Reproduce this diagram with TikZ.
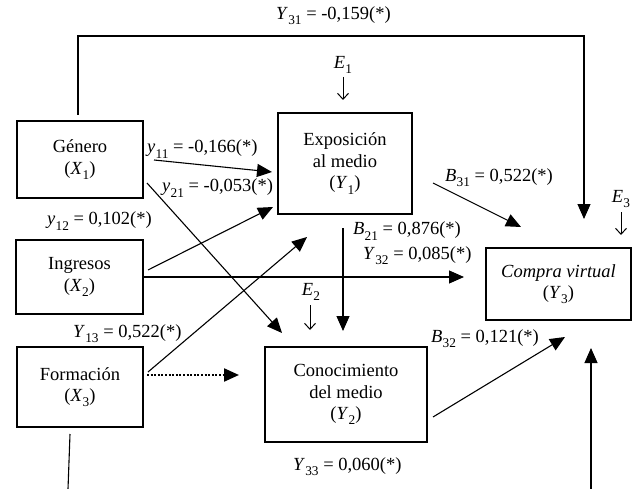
\documentclass[tikz,border=0pt]{standalone}
\usepackage{fontspec}
\usepackage{graphicx}
\setmainfont{Liberation Serif}
\usetikzlibrary{arrows.meta}
\newcommand{\sv}[2]{\textit{#1}\kern0.2pt\raisebox{-0.28em}{\scalebox{0.72}{#2}}}
\begin{document}
\begin{tikzpicture}[x=1pt,y=-1pt,
  box/.style={draw, line width=1.6pt, align=center, inner sep=0pt, font=\fontsize{18.5}{21.5}\selectfont},
  lab/.style={inner sep=0pt, anchor=west, font=\fontsize{18.5}{21}\selectfont},
  elab/.style={inner sep=0pt, font=\fontsize{18.5}{21}\selectfont},
  arr/.style={line width=1.1pt, -{Triangle[length=15pt,width=13pt]}},
  plain/.style={line width=1.1pt},
  earr/.style={line width=1pt, -{Straight Barb[length=6pt,width=11pt,line width=1pt]}},
  dotarr/.style={line width=2.2pt, dash pattern=on 2pt off 1.6pt, -{Triangle[length=15pt,width=13pt]}}]
\useasboundingbox (0,0) rectangle (634,489);

% boxes
\node[box, minimum width=126pt, minimum height=77pt] (gen) at (80,159.5) {Género\\(\sv{X}{1})};
\node[box, minimum width=134pt, minimum height=101pt] (exp) at (345,163.5) {Exposición\\al medio\\(\sv{Y}{1})};
\node[box, minimum width=127pt, minimum height=74pt] (ing) at (79.5,277) {Ingresos\\(\sv{X}{2})};
\node[box, minimum width=145pt, minimum height=72pt] (com) at (558.5,284) {\textit{Compra virtual}\\(\sv{Y}{3})};
\node[box, minimum width=126pt, minimum height=80pt] (for) at (80,387) {Formación\\(\sv{X}{3})};
\node[box, minimum width=162pt, minimum height=95pt] (con) at (346,394.5) {Conocimiento\\del medio\\(\sv{Y}{2})};

% error terms
\node[elab] (e1) at (343,65) {\sv{E}{1}};
\node[elab] (e2) at (311,292) {\sv{E}{2}};
\node[elab] (e3) at (621,199) {\sv{E}{3}};
\coordinate (e1t) at (343,100);
\coordinate (e2t) at (310,330);
\coordinate (e3t) at (621,235);
\draw[earr] (343,77) -- (e1t);
\draw[earr] (310,305) -- (e2t);
\draw[earr] (621,212) -- (e3t);

% labels
\node[lab] (l31) at (276,16) {\sv{Y}{31} = -0,159(*)};
\node[lab] (l11) at (147,149) {\sv{y}{11} = -0,166(*)};
\node[lab] (l21) at (162,188) {\sv{y}{21} = -0,053(*)};
\node[lab] (l12) at (47,221) {\sv{y}{12} = 0,102(*)};
\node[lab] (lb31) at (445,178) {\sv{B}{31} = 0,522(*)};
\node[lab] (lb21) at (353,231) {\sv{B}{21} = 0,876(*)};
\node[lab] (l32) at (363,256) {\sv{Y}{32} = 0,085(*)};
\node[lab] (l13) at (73,334) {\sv{Y}{13} = 0,522(*)};
\node[lab] (lb32) at (431,339) {\sv{B}{32} = 0,121(*)};
\node[lab] (l33) at (293,467) {\sv{Y}{33} = 0,060(*)};

% connector coordinates
\coordinate (g1) at (154,160);  \coordinate (x1) at (272,172);
\coordinate (g2) at (147,183);  \coordinate (c1) at (282,333);
\coordinate (i1) at (148,270);  \coordinate (x2) at (273,207);
\coordinate (i2) at (144,277);  \coordinate (y3a) at (464,277);
\coordinate (f1) at (148,372);  \coordinate (x3) at (307,237);
\coordinate (f2) at (147,375);  \coordinate (c2) at (239,375);
\coordinate (ex1) at (433,183); \coordinate (y3b) at (521,227);
\coordinate (ex2) at (343,228); \coordinate (c3) at (343,331);
\coordinate (cn1) at (433,417); \coordinate (y3c) at (565,337);
\coordinate (gt) at (78,115);   \coordinate (tl) at (78,36);
\coordinate (tr) at (584,36);   \coordinate (y3d) at (584,219);
\coordinate (fb1) at (70,434);  \coordinate (fb2) at (68,489);
\coordinate (br1) at (591,489); \coordinate (y3e) at (591,348);

\draw[arr] (g1) -- (x1);
\draw[arr] (g2) -- (c1);
\draw[arr] (i1) -- (x2);
\draw[arr] (i2) -- (y3a);
\draw[arr] (f1) -- (x3);
\draw[dotarr] (f2) -- (c2);
\draw[arr] (ex1) -- (y3b);
\draw[arr] (ex2) -- (c3);
\draw[arr] (cn1) -- (y3c);
\draw[arr] (gt) -- (tl) -- (tr) -- (y3d);
\draw[plain] (fb1) -- (fb2);
\draw[arr] (br1) -- (y3e);
\end{tikzpicture}
\end{document}
